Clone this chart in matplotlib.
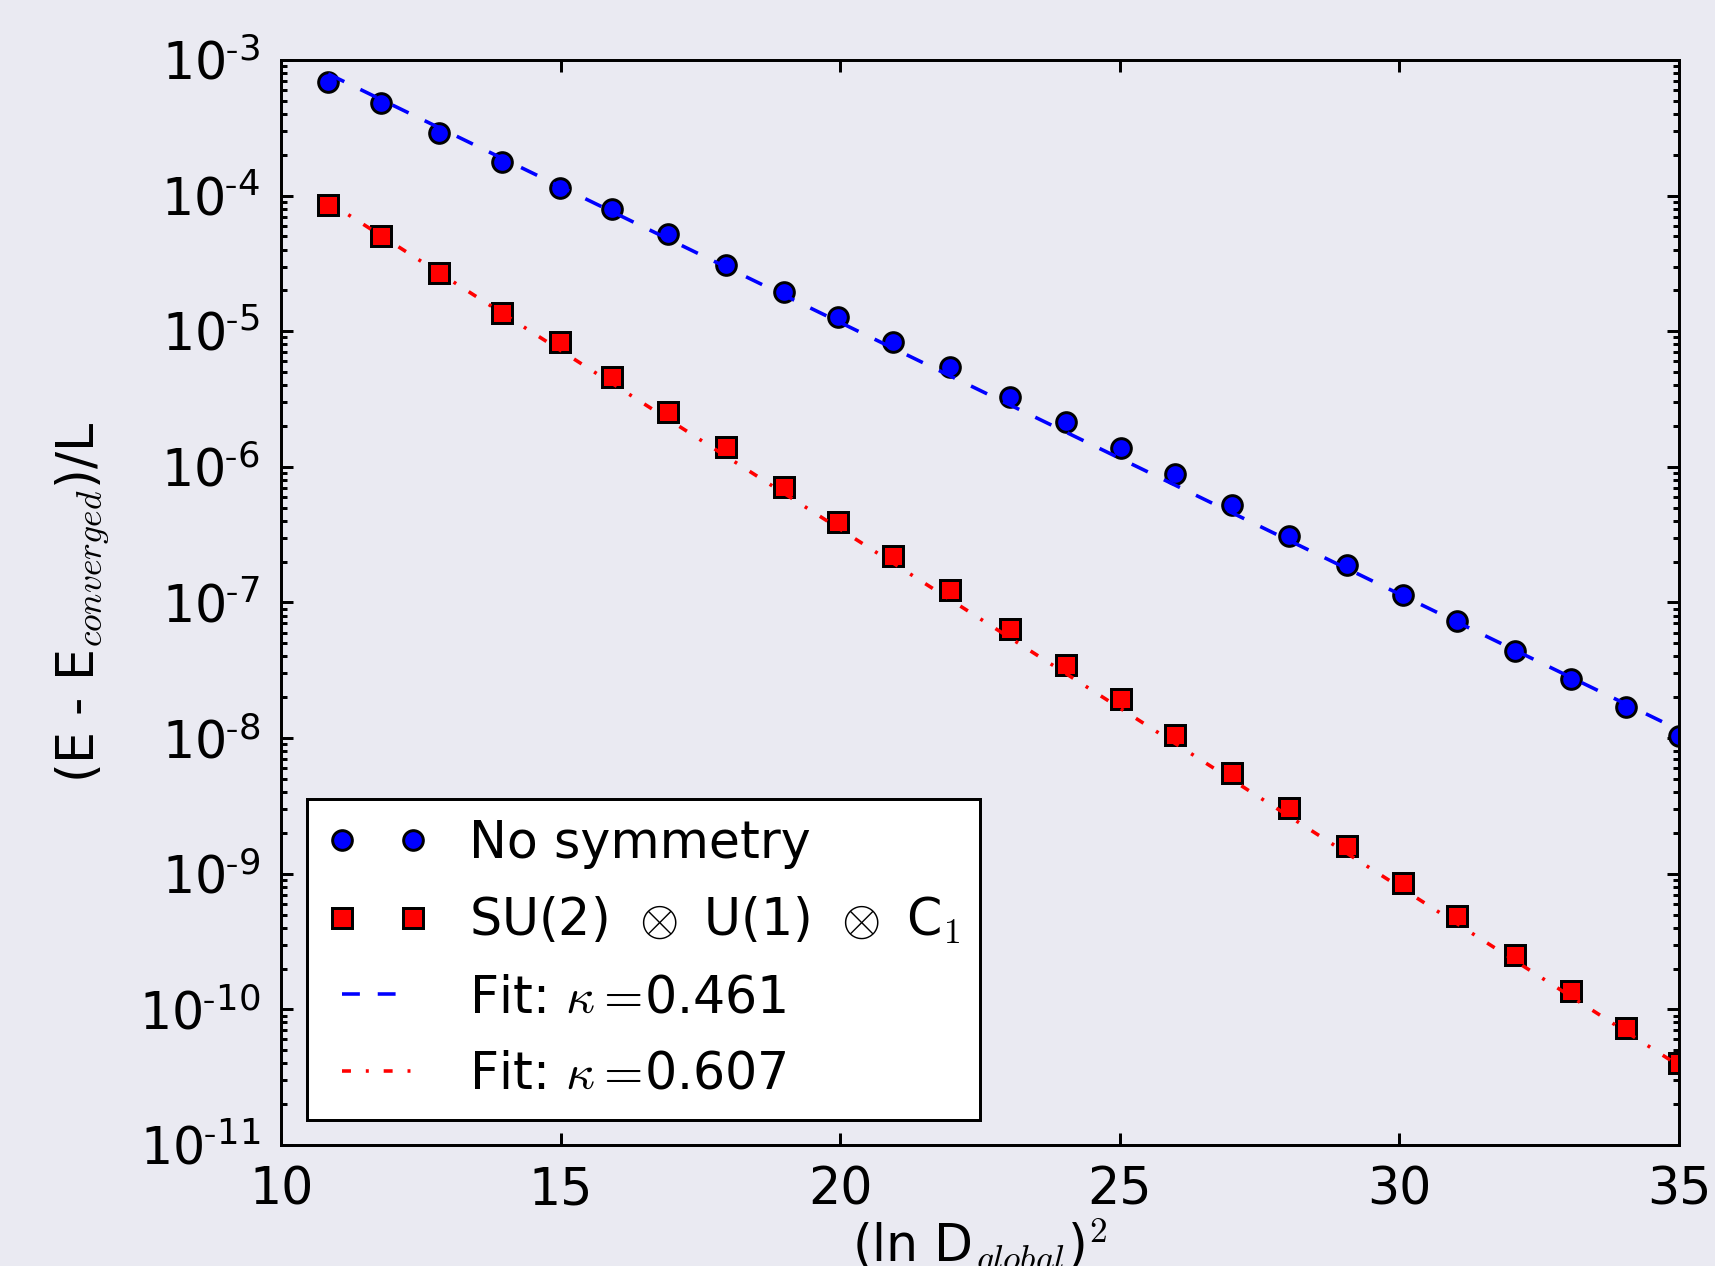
import numpy as np
import matplotlib
matplotlib.use("Agg")
import matplotlib.pyplot as plt
from matplotlib.ticker import FixedLocator, FuncFormatter, LogLocator, NullFormatter

# ---- data ----
x_vals = [10.84, 11.78, 12.82, 13.95, 14.99, 15.91, 16.91, 17.95, 18.99, 19.96,
          20.94, 21.96, 23.04, 24.04, 25.02, 25.99, 27.01, 28.03, 29.07, 30.07,
          31.03, 32.06, 33.06, 34.06, 35.0]
no_sym = [6.9e-4, 4.85e-4, 2.88e-4, 1.78e-4, 1.14e-4, 8.0e-5, 5.2e-5, 3.1e-5, 1.95e-5, 1.27e-5,
          8.3e-6, 5.42e-6, 3.28e-6, 2.14e-6, 1.37e-6, 8.8e-7, 5.2e-7, 3.1e-7, 1.88e-7, 1.14e-7,
          7.3e-8, 4.4e-8, 2.72e-8, 1.71e-8, 1.04e-8]
with_sym = [8.6e-5, 5.03e-5, 2.67e-5, 1.37e-5, 8.3e-6, 4.58e-6, 2.53e-6, 1.40e-6, 7.16e-7, 3.95e-7,
            2.22e-7, 1.23e-7, 6.4e-8, 3.47e-8, 1.95e-8, 1.06e-8, 5.52e-9, 3.05e-9, 1.59e-9, 8.6e-10,
            4.84e-10, 2.53e-10, 1.37e-10, 7.3e-11, 4.03e-11]
kappa_fits = [0.461, 0.607]
amp_fits = [0.117, 0.0648]
fit_range = [10.84, 35.0]

labels = ["No symmetry", r"SU(2) $\hspace{0.1}\otimes$ U(1) $\hspace{0.1}\otimes$ C$_1$",
          r"Fit: $\kappa=\!$0.461", r"Fit: $\kappa=\!$0.607"]
xticks = [10, 15, 20, 25, 30, 35]

# ---- style ----
bg = "#EAEAF2"
plt.rcParams["font.family"] = ["DejaVu Sans"]
plt.rcParams["mathtext.fontset"] = "cm"
plt.rcParams["font.size"] = 17
plt.rcParams["lines.scale_dashes"] = False

DPI = 214.375
fig = plt.figure(figsize=(1715 / DPI, 1266 / DPI), dpi=DPI, facecolor=bg)
ax = fig.add_axes([0.1640, 0.0956, 0.979 - 0.1640, 0.9526 - 0.0956])
ax.set_facecolor(bg)

ax.plot(x_vals, no_sym, linestyle="none", marker="o", markersize=6.6,
        markerfacecolor="blue", markeredgecolor="black", markeredgewidth=1.0,
        label=labels[0])
ax.plot(x_vals, with_sym, linestyle="none", marker="s", markersize=6.6,
        markerfacecolor="red", markeredgecolor="black", markeredgewidth=1.0,
        label=labels[1])

xf = np.linspace(fit_range[0], fit_range[1], 200)
ax.plot(xf, amp_fits[0] * np.exp(-kappa_fits[0] * xf), color="blue", lw=1.2,
        linestyle=(0, (6, 6)), label=labels[2])
ax.plot(xf, amp_fits[1] * np.exp(-kappa_fits[1] * xf), color="red", lw=1.2,
        linestyle=(0, (3, 5, 1, 5)), label=labels[3])

ax.set_yscale("log")
ax.set_xlim(10, 35)
ax.set_ylim(1e-11, 1e-3)
ax.xaxis.set_major_locator(FixedLocator(xticks))
ax.yaxis.set_major_locator(LogLocator(base=10, numticks=20))
ax.yaxis.set_minor_locator(LogLocator(base=10, subs=np.arange(2, 10), numticks=20))
ax.yaxis.set_minor_formatter(NullFormatter())
ax.yaxis.set_major_formatter(FuncFormatter(
    lambda v, p: r"$\mathdefault{10^{\text{-}%d}}$" % abs(int(round(np.log10(v))))))

ax.tick_params(which="both", direction="in", top=True, right=True, colors="black",
               labelsize=17, pad=7)
ax.tick_params(which="major", length=4, width=1)
ax.tick_params(which="minor", length=2, width=1)
for s in ax.spines.values():
    s.set_color("black")
    s.set_linewidth(1.0)

ax.set_xlabel(r"(ln D$_{global}$)$^2$", fontsize=17, labelpad=0)
ax.set_ylabel(r"(E - E$_{converged}$)/L", fontsize=17)
ax.yaxis.set_label_coords(-0.122, 0.5)

leg = ax.legend(loc="lower left", numpoints=2, fontsize=17, fancybox=False,
                framealpha=1.0, edgecolor="black", facecolor="white",
                borderaxespad=0.5, handlelength=2.0, labelspacing=0.52)
leg.get_frame().set_linewidth(1.0)

fig.savefig("out.png", dpi=DPI, facecolor=bg)
